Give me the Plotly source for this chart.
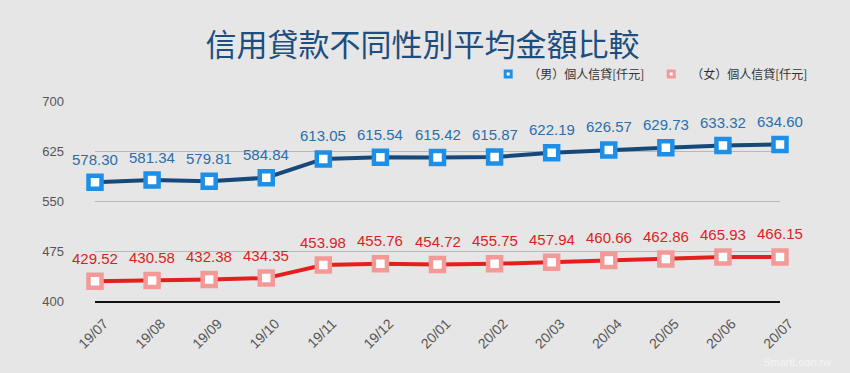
import plotly.graph_objects as go

months = ["19/07","19/08","19/09","19/10","19/11","19/12","20/01","20/02","20/03","20/04","20/05","20/06","20/07"]
male = [578.30,581.34,579.81,584.84,613.05,615.54,615.42,615.87,622.19,626.57,629.73,633.32,634.60]
female = [429.52,430.58,432.38,434.35,453.98,455.76,454.72,455.75,457.94,460.66,462.86,465.93,466.15]
y_ticks = [400,475,550,625,700]
series_names = ["（男）個人信貸[仟元]", "（女）個人信貸[仟元]"]

FONT = "Liberation Sans, Arial, Noto Sans CJK TC, sans-serif"
CJK = "Noto Sans CJK TC, sans-serif"
BG = "#e6e6e6"

styles = [
    dict(line="#17487a", marker="#1e8fe6", text="#2a6ead"),
    dict(line="#e3201e", marker="#f39a98", text="#d91f1f"),
]

fig = go.Figure()
for name, vals, st in zip(series_names, [male, female], styles):
    fig.add_trace(go.Scatter(
        x=months, y=vals, name=name, mode="lines+markers", showlegend=False,
        line=dict(color=st["line"], width=4),
        marker=dict(symbol="square", size=13, color="white", line=dict(color=st["marker"], width=4.5)),
        cliponaxis=False,
    ))
    # legend entry (marker only)
    fig.add_trace(go.Scatter(
        x=[None], y=[None], name=name, mode="markers",
        marker=dict(symbol="square", size=6, color="white", line=dict(color=st["marker"], width=3)),
    ))
    for m, v in zip(months, vals):
        fig.add_annotation(x=m, y=v, text=f"{v:.2f}", showarrow=False, yshift=23,
                           font=dict(size=15, color=st["text"], family=FONT))

fig.update_layout(
    width=850, height=373,
    paper_bgcolor=BG, plot_bgcolor=BG,
    margin=dict(l=95, r=70, t=101, b=72),
    font=dict(family=FONT, color="#555555"),
    title=dict(text="信用貸款不同性別平均金額比較", x=0.497, xref="container", xanchor="center",
               y=1 - 45/373, yref="container", yanchor="middle",
               font=dict(size=31, color="#1d4e7f", family=CJK)),
    legend=dict(orientation="h", x=0.574, xanchor="left", y=1.135, yanchor="middle",
                bgcolor="rgba(0,0,0,0)", font=dict(size=12, color="#333333", family=CJK),
                entrywidth=118, traceorder="normal"),
    showlegend=True,
)
fig.update_xaxes(type="category", range=[0, 12], showgrid=False, showline=True, linecolor="#111111",
                 linewidth=2, tickangle=-45, tickfont=dict(size=14, color="#555555"), ticks="",
                 zeroline=False, ticklabelshift=9, ticklabelstandoff=7)
fig.update_yaxes(range=[400, 700], tickvals=y_ticks, showgrid=True, gridcolor="#b8b8b8", gridwidth=1,
                 zeroline=False, showline=False, tickfont=dict(size=13, color="#555555"),
                 ticklabelstandoff=30)
fig.add_annotation(text="SmartLoan.tw", xref="paper", yref="paper", x=1.077, y=-0.305,
                   xanchor="right", yanchor="middle", showarrow=False,
                   font=dict(size=11, color="#f4f4f4"))

fig.write_html("out.html", config={"displayModeBar": False},
               post_script="document.body.style.margin='0';")
